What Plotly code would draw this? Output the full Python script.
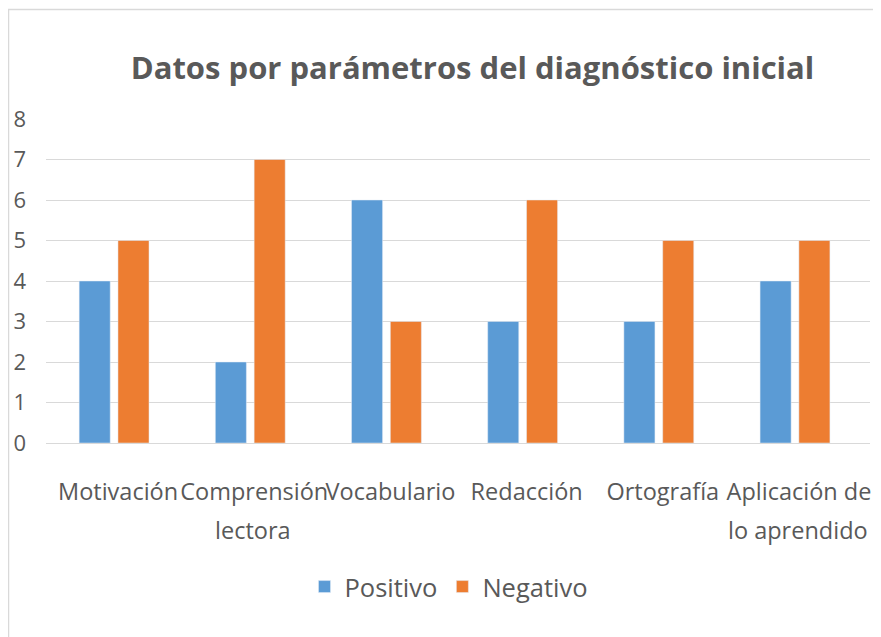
import plotly.graph_objects as go

categories = ["Motivación", "Comprensión", "Vocabulario", "Redacción", "Ortografía", "Aplicación de"]
second_lines = ["", "lectora", "", "", "", "lo aprendido"]
positivo = [4, 2, 6, 3, 3, 4]
negativo = [5, 7, 3, 6, 5, 5]
y_ticks = [0, 1, 2, 3, 4, 5, 6, 7, 8]

BLUE = "#5B9BD5"
ORANGE = "#ED7D31"
TXT = "#595959"
GRID = "#D9D9D9"
FONT = "Open Sans"

OFF = 8  # page body margin
W, H = 881, 637
L, R, T, B = 46 - OFF, W - (870 - OFF), 119 - OFF, H - (443 - OFF)
pw, ph = W - L - R, H - T - B

def px_x(p):  # screen pixel -> paper
    return (p - OFF - L) / pw

def px_y(p):
    return (H - B - (p - OFF)) / ph

fig = go.Figure()
fig.add_trace(go.Bar(name="Positivo", x=categories, y=positivo, marker_color=BLUE))
fig.add_trace(go.Bar(name="Negativo", x=categories, y=negativo, marker_color=ORANGE))

for c, s in zip(categories, second_lines):
    if s:
        fig.add_annotation(x=c, y=px_y(530), xref="x", yref="paper", text=s,
                           showarrow=False, yanchor="middle", xshift=3,
                           font=dict(family=FONT, size=23.5, color=TXT))

fig.add_shape(type="rect", xref="paper", yref="paper",
              x0=px_x(8.5), y0=px_y(9.5), x1=px_x(W + 30), y1=px_y(H + 30),
              line=dict(color=GRID, width=1.5), fillcolor="rgba(0,0,0,0)", layer="below")

fig.update_layout(
    width=W, height=H,
    margin=dict(l=L, r=R, t=T, b=B, autoexpand=False),
    paper_bgcolor="white", plot_bgcolor="white",
    barmode="group", bargap=0.43, bargroupgap=0.2,
    title=dict(text="<b>Datos por parámetros del diagnóstico inicial</b>",
               x=(472.5 - OFF) / W, xanchor="center",
               y=1 - (68 - OFF) / H, yanchor="middle",
               font=dict(family=FONT, size=31, color=TXT)),
    font=dict(family=FONT, color=TXT),
    legend=dict(orientation="h", x=px_x(449), xanchor="center",
                y=px_y(587), yanchor="middle",
                font=dict(family=FONT, size=25.5, color=TXT),
                itemwidth=30),
    xaxis=dict(showgrid=False, showline=False, ticks="", tickangle=0,
               automargin=False, ticklabelshift=4,
               tickfont=dict(family=FONT, size=23.5, color=TXT),
               ticklabelstandoff=32),
    yaxis=dict(range=[0, 8], tickvals=y_ticks, showgrid=True, gridcolor=GRID,
               gridwidth=1, zeroline=True, zerolinecolor=GRID, zerolinewidth=1,
               showline=False, ticks="", automargin=False,
               tickfont=dict(family=FONT, size=22, color=TXT),
               ticklabelstandoff=19),
)

fig.write_html("out.html")
